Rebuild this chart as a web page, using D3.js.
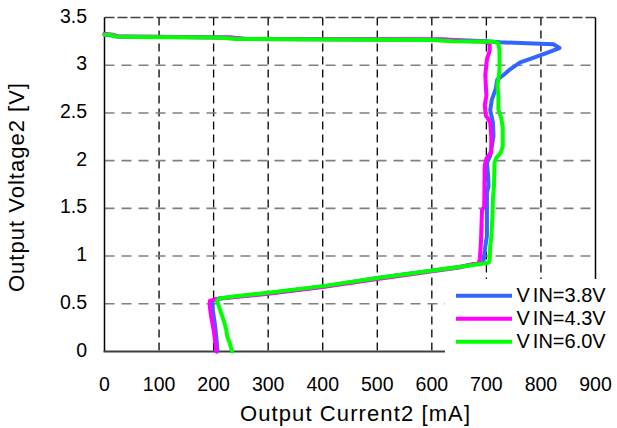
<!DOCTYPE html>
<html><head><meta charset="utf-8">
<script src="https://cdn.jsdelivr.net/npm/d3@7"></script>
<style>body{margin:0;background:#fff}svg{display:block}text{font-family:"Liberation Sans",Arial,Helvetica,sans-serif;fill:#000}</style>
</head><body><svg id="c" width="617" height="428" font-family="Liberation Sans, Arial, sans-serif"></svg>
<script>
const xTicks = [0,100,200,300,400,500,600,700,800,900];
const yTicks = [0,0.5,1,1.5,2,2.5,3,3.5];
const yTickLabels = ["0","0.5","1","1.5","2","2.5","3","3.5"];
const seriesNames = ["VIN=3.8V","VIN=4.3V","VIN=6.0V"];
const seriesColors = ["#3366ff","#ff00ff","#00ff00"];

// VIN=3.8V
const blueCurrent = [0,15,25,230,260,620,700,725,775,823,834,811,787,762,744,732,720,717,710,707,712,713,707,701,703,704,701,701,698,695,693,650,500,400,300,240,210,198,198,202,205,207];
const blueVoltage = [3.32,3.31,3.30,3.29,3.275,3.27,3.25,3.24,3.23,3.22,3.18,3.13,3.08,3.03,2.96,2.90,2.85,2.75,2.64,2.53,2.40,2.26,2.05,1.98,1.85,1.73,1.67,1.21,1.10,0.96,0.93,0.885,0.77,0.68,0.61,0.575,0.555,0.53,0.45,0.30,0.15,0];
// VIN=4.3V
const magCurrent = [0,15,25,230,260,620,660,700,706,706,701,698,700,697,699,702,707,709,709,700,697,696,692,690,688,686,650,500,400,300,240,205,193,193,196,200,203,205];
const magVoltage = [3.33,3.32,3.30,3.29,3.275,3.27,3.255,3.245,3.22,3.15,3.06,2.90,2.68,2.58,2.47,2.45,2.40,2.25,2.09,2.02,1.95,1.52,1.48,1.14,0.97,0.93,0.88,0.76,0.675,0.605,0.57,0.55,0.53,0.47,0.35,0.23,0.10,0];
// VIN=6.0V
const greenCurrent = [0,12,20,60,210,240,400,600,640,715,722,724,724,722,720,722,722,727,730,730,726,718,715,714,712,711,709,707,706,704,650,500,400,300,240,210,206,210,214,220,223,225,230,234];
const greenVoltage = [3.32,3.32,3.30,3.295,3.29,3.275,3.27,3.265,3.25,3.245,3.23,3.15,2.95,2.85,2.78,2.70,2.54,2.45,2.35,2.15,2.08,2.03,1.98,1.75,1.60,1.40,1.20,1.10,0.96,0.93,0.885,0.77,0.685,0.615,0.58,0.555,0.53,0.47,0.40,0.30,0.23,0.16,0.08,0];

const series = [
  {name: seriesNames[0], color: seriesColors[0], xs: blueCurrent, ys: blueVoltage},
  {name: seriesNames[1], color: seriesColors[1], xs: magCurrent, ys: magVoltage},
  {name: seriesNames[2], color: seriesColors[2], xs: greenCurrent, ys: greenVoltage}
];

const svg = d3.select("#c");
const L = 104.5, R = 595.5, T = 17.5, B = 351.5;
const x = d3.scaleLinear().domain([0,900]).range([L,R]);
const y = d3.scaleLinear().domain([0,3.5]).range([B,T]);

// vertical grid
svg.append("g").selectAll("line").data(xTicks.filter(d=>d>0 && d<900)).join("line")
  .attr("x1",d=>x(d)).attr("x2",d=>x(d)).attr("y1",T).attr("y2",B)
  .attr("stroke","#000").attr("stroke-width",1.3).attr("stroke-dasharray","8,5");
// horizontal grid
svg.append("g").selectAll("line").data(yTicks.filter(d=>d>0 && d<3.5)).join("line")
  .attr("x1",L).attr("x2",R).attr("y1",d=>y(d)).attr("y2",d=>y(d))
  .attr("stroke","#808080").attr("stroke-width",1.6).attr("stroke-dasharray","10,7");
// top border dashed
svg.append("line").attr("x1",L).attr("x2",R).attr("y1",T).attr("y2",T)
  .attr("stroke","#404040").attr("stroke-width",1.6).attr("stroke-dasharray","10,3");
// left & right borders
svg.append("line").attr("x1",L).attr("x2",L).attr("y1",T).attr("y2",B).attr("stroke","#000").attr("stroke-width",1.5);
svg.append("line").attr("x1",R).attr("x2",R).attr("y1",T).attr("y2",B).attr("stroke","#000").attr("stroke-width",1.5);
// bottom axis
svg.append("line").attr("x1",L-1).attr("x2",R+1).attr("y1",B).attr("y2",B).attr("stroke","#404040").attr("stroke-width",2.2);

// curves
const line = d3.line().x(d=>x(d[0])).y(d=>y(d[1])).curve(d3.curveLinear);
svg.append("g").selectAll("path").data(series).join("path")
  .attr("d",s=>line(s.xs.map((v,i)=>[v,s.ys[i]])))
  .attr("fill","none").attr("stroke",s=>s.color).attr("stroke-width",4)
  .attr("stroke-linejoin","round").attr("stroke-linecap","round");

// legend (white box covers plot corner)
const lg = svg.append("g");
lg.append("rect").attr("x",445).attr("y",279).attr("width",172).attr("height",80).attr("fill","#fff");
const li = lg.selectAll("g").data(series).join("g")
  .attr("transform",(d,i)=>`translate(0,${295.7 + i*23})`);
li.append("line").attr("x1",456).attr("x2",512).attr("y1",0).attr("y2",0)
  .attr("stroke",d=>d.color).attr("stroke-width",4);
const lt = li.append("text").attr("x",516.5).attr("y",6.5).attr("font-size",20);
lt.append("tspan").text(d=>d.name.slice(0,1));
lt.append("tspan").attr("dx",3).text(d=>d.name.slice(1));

// tick labels
svg.append("g").selectAll("text").data(xTicks).join("text")
  .attr("x",d=>x(d)).attr("y",391).attr("text-anchor","middle").attr("font-size",19.5)
  .text(d=>d);
svg.append("g").selectAll("text").data(yTicks).join("text")
  .attr("x",87).attr("y",d=>y(d)+5).attr("text-anchor","end").attr("font-size",19.5)
  .text((d,i)=>yTickLabels[i]);

// axis titles
svg.append("text").attr("x",355).attr("y",421).attr("text-anchor","middle").attr("font-size",22)
  .attr("textLength",230).attr("lengthAdjust","spacing").text("Output Current2 [mA]");
svg.append("text").attr("transform","translate(24,187.5) rotate(-90)").attr("text-anchor","middle")
  .attr("font-size",22).attr("textLength",209).attr("lengthAdjust","spacing").text("Output Voltage2 [V]");
</script></body></html>
